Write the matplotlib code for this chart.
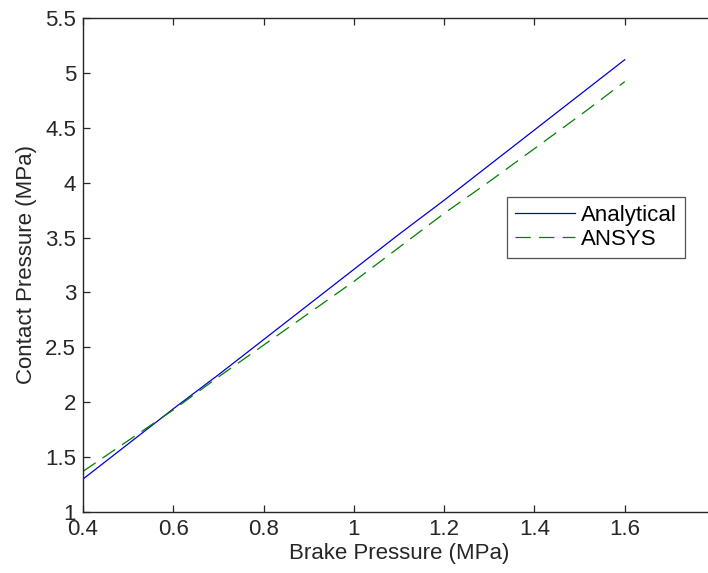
import matplotlib
matplotlib.use("Agg")
import matplotlib.pyplot as plt
from matplotlib.ticker import FuncFormatter

# Data
brake_pressure = [0.4, 0.5, 0.6, 0.7, 0.8, 0.9, 1.0, 1.1, 1.2, 1.3, 1.4, 1.5, 1.6]
analytical = [1.30, 1.62, 1.94, 2.25, 2.57, 2.89, 3.21, 3.53, 3.84, 4.16, 4.48, 4.80, 5.12]
ansys = [1.37, 1.65, 1.93, 2.23, 2.52, 2.81, 3.10, 3.41, 3.72, 4.01, 4.31, 4.61, 4.92]
x_ticks = [0.4, 0.6, 0.8, 1.0, 1.2, 1.4, 1.6]
y_ticks = [1, 1.5, 2, 2.5, 3, 3.5, 4, 4.5, 5, 5.5]

plt.rcParams['font.family'] = ['Liberation Sans', 'DejaVu Sans']
plt.rcParams['lines.scale_dashes'] = False

fig = plt.figure(figsize=(7.08, 5.73), dpi=100)
W, H = 708, 573
# axes runs past the right edge of the picture (cropped in the reference)
left, right, top, bottom = 83, 715, 18, 512
ax = fig.add_axes([left / W, 1 - bottom / H, (right - left) / W, (bottom - top) / H])

ax.plot(brake_pressure, analytical, color=(0, 0, 0.85), lw=0.9, label="Analytical")
ax.plot(brake_pressure, ansys, color=(0, 0.5, 0), lw=0.9, dashes=(11, 6), label="ANSYS")

ax.set_xlim(0.4, 1.8)
ax.set_ylim(1, 5.5)
ax.set_xticks(x_ticks)
ax.set_yticks(y_ticks)
ax.xaxis.set_major_formatter(FuncFormatter(lambda v, p: f"{v:g}"))
ax.yaxis.set_major_formatter(FuncFormatter(lambda v, p: f"{v:g}"))
ax.tick_params(direction='in', length=5, width=0.9, labelsize=16, pad=5,
               top=True, right=True, colors='#262626')
for s in ax.spines.values():
    s.set_linewidth(1.0)
    s.set_color('#262626')

ax.set_xlabel("Brake Pressure (MPa)", fontsize=16, color='#262626', labelpad=2)
ax.set_ylabel("Contact Pressure (MPa)", fontsize=16, color='#262626', labelpad=6)

leg = ax.legend(loc='upper left', bbox_to_anchor=(507 / W, 1 - 197 / H),
                bbox_transform=fig.transFigure, fontsize=16, frameon=True,
                fancybox=False, handlelength=2.7, handletextpad=0.3,
                borderpad=0.35, labelspacing=0.15, borderaxespad=0)
leg.get_frame().set_edgecolor('#262626')
leg.get_frame().set_linewidth(0.9)

fig.savefig("out.png", dpi=100)
